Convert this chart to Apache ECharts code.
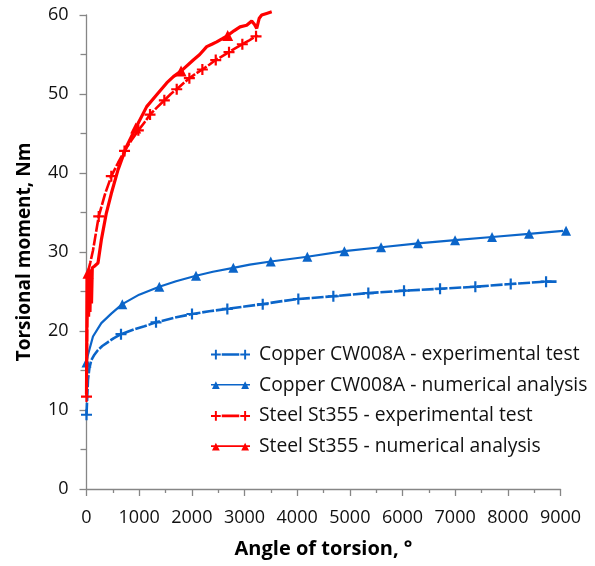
<!DOCTYPE html>
<html>
<head>
<meta charset="utf-8">
<script src="https://cdn.jsdelivr.net/npm/echarts@6/dist/echarts.min.js"></script>
<style>
html,body{margin:0;padding:0;background:#fff;}
#chart{width:595px;height:566px;}
</style>
</head>
<body>
<div id="chart"></div>
<script>
// ---- Data (angle of torsion in degrees, torsional moment in Nm) ----
const seriesNames = [
  'Copper CW008A - experimental test',
  'Copper CW008A - numerical analysis',
  'Steel St355 - experimental test',
  'Steel St355 - numerical analysis'
];
const xTicks = [0, 1000, 2000, 3000, 4000, 5000, 6000, 7000, 8000, 9000];
const yTicks = [0, 10, 20, 30, 40, 50, 60];

const copperExpAngle  = [0, 10, 28, 55, 91, 150, 218, 300, 408, 520, 655, 900, 1100, 1320, 1650, 2003, 2330, 2674, 3000, 3346, 3680, 4022, 4687, 5351, 6029, 6713, 7383, 8055, 8726, 8925];
const copperExpMoment = [9.4, 11.0, 13.8, 15.3, 16.3, 17.0, 17.6, 18.1, 18.6, 19.1, 19.6, 20.2, 20.6, 21.1, 21.65, 22.15, 22.5, 22.8, 23.1, 23.4, 23.75, 24.05, 24.4, 24.8, 25.1, 25.35, 25.6, 25.95, 26.25, 26.25];
const copperExpMarks  = [0, 655, 1320, 2003, 2674, 3346, 4022, 4687, 5351, 6029, 6713, 7383, 8055, 8726];

const copperNumAngle  = [0, 28, 123, 281, 471, 680, 1000, 1382, 1700, 2079, 2400, 2788, 3100, 3498, 4193, 4896, 5593, 6295, 6998, 7700, 8403, 9106, 9309];
const copperNumMoment = [16.0, 17.0, 19.3, 21.0, 22.2, 23.4, 24.6, 25.6, 26.3, 27.0, 27.5, 28.0, 28.4, 28.8, 29.4, 30.1, 30.6, 31.1, 31.5, 31.9, 32.3, 32.7, 32.85];
const copperNumMarks  = [0, 680, 1382, 2079, 2788, 3498, 4193, 4896, 5593, 6295, 6998, 7700, 8403, 9106];

const steelExpAngle  = [0, 8, 15, 28, 70, 123, 232, 350, 471, 600, 722, 850, 984, 1100, 1206, 1340, 1478, 1600, 1713, 1830, 1953, 2080, 2200, 2330, 2454, 2580, 2706, 2830, 2959, 3090, 3219, 3243];
const steelExpMoment = [11.7, 18.0, 22.0, 27.5, 28.6, 30.2, 34.5, 37.3, 39.6, 41.3, 42.8, 44.1, 45.4, 46.4, 47.4, 48.3, 49.2, 50.0, 50.6, 51.3, 52.0, 52.6, 53.1, 53.7, 54.3, 54.8, 55.3, 55.8, 56.3, 56.8, 57.3, 57.5];
const steelExpMarks  = [0, 232, 471, 722, 984, 1206, 1478, 1713, 1953, 2200, 2454, 2706, 2959, 3219];

const steelNumAngle  = [0, 10, 18, 28, 40, 52, 66, 80, 95, 110, 150, 218, 281, 376, 471, 598, 756, 934, 1143, 1333, 1523, 1650, 1795, 2028, 2150, 2283, 2380, 2473, 2580, 2681, 2800, 2915, 3042, 3137, 3190, 3232, 3280, 3327, 3420, 3517];
const steelNumMoment = [12.0, 27.0, 22.5, 27.3, 21.8, 27.6, 22.4, 27.8, 23.5, 28.0, 28.2, 28.6, 31.5, 34.9, 37.4, 40.4, 43.3, 45.7, 48.4, 49.9, 51.4, 52.2, 52.9, 54.3, 55.0, 56.0, 56.3, 56.6, 57.0, 57.4, 58.0, 58.5, 58.7, 59.25, 58.8, 58.3, 59.6, 60.0, 60.2, 60.4];
const steelNumMarks  = [28, 934, 1795, 2681];

// ---- Build ----
const BLUE = '#0b65c9';
const RED = '#ff0000';
const PLUS = 'path://M4,0h2v4h4v2h-4v4h-2v-4h-4v-2h4z';
const FONT = 'Open Sans';
// legend icons: marker - line - marker
const ICON_PLUS = 'path://M4,0h2v4h4v2h-4v4h-2v-4h-4v-2h4zM11,3.6h18v2.8h-18zM34,0h2v4h4v2h-4v4h-2v-4h-4v-2h4z';
const ICON_TRI = 'path://M0,4.3h40v1.4h-40zM1,9.5L5,1.5L9,9.5zM31,9.5L35,1.5L39,9.5z';
const ICON_TRI_THICK = 'path://M0,4h40v2h-40zM1,9.5L5,1.5L9,9.5zM31,9.5L35,1.5L39,9.5z';

function build(angles, moments, marks) {
  return angles.map((a, i) => {
    const item = { value: [a, moments[i]] };
    if (marks.indexOf(a) < 0) item.symbol = 'none';
    return item;
  });
}

const chart = echarts.init(document.getElementById('chart'), null, { renderer: 'canvas' });

const option = {
  animation: false,
  backgroundColor: '#fff',
  grid: { left: 86.5, right: 34.5, top: 15, bottom: 77, containLabel: false, outerBoundsMode: 'none' },
  legend: {
    orient: 'vertical',
    left: 206,
    top: 339,
    itemWidth: 39,
    itemHeight: 10,
    itemGap: 9.7,
    data: [
      { name: seriesNames[0], icon: ICON_PLUS },
      { name: seriesNames[1], icon: ICON_TRI },
      { name: seriesNames[2], icon: ICON_PLUS },
      { name: seriesNames[3], icon: ICON_TRI_THICK }
    ],
    textStyle: { fontFamily: FONT, fontSize: 19.3, color: '#111', lineHeight: 21, padding: [0, 0, 0, 4] }
  },
  xAxis: {
    type: 'value',
    min: xTicks[0],
    max: xTicks[xTicks.length - 1],
    interval: 1000,
    name: 'Angle of torsion, °',
    nameLocation: 'middle',
    nameGap: 50,
    nameTextStyle: { fontFamily: FONT, fontSize: 20, fontWeight: 'bold', color: '#000' },
    axisLine: { show: true, lineStyle: { color: '#868686', width: 1.3 } },
    axisTick: { show: true, length: 7, lineStyle: { color: '#868686', width: 1.3 } },
    minorTick: { show: true, splitNumber: 2, length: 4, lineStyle: { color: '#868686', width: 1.3 } },
    axisLabel: { fontFamily: FONT, fontSize: 18, color: '#111', margin: 20, formatter: v => String(v) },
    splitLine: { show: false }
  },
  yAxis: {
    type: 'value',
    min: yTicks[0],
    max: yTicks[yTicks.length - 1],
    interval: 10,
    name: 'Torsional moment, Nm',
    nameLocation: 'middle',
    nameGap: 52,
    nameTextStyle: { fontFamily: FONT, fontSize: 19, fontWeight: 'bold', color: '#000' },
    axisLine: { show: true, lineStyle: { color: '#868686', width: 1.3 } },
    axisTick: { show: true, length: 7, lineStyle: { color: '#868686', width: 1.3 } },
    minorTick: { show: true, splitNumber: 2, length: 6, lineStyle: { color: '#868686', width: 1.3 } },
    axisLabel: { fontFamily: FONT, fontSize: 18, color: '#111', margin: 18, formatter: v => String(v) },
    splitLine: { show: false }
  },
  series: [
    {
      name: seriesNames[0], type: 'line', clip: false, z: 3,
      symbol: PLUS, symbolSize: 11, showSymbol: true,
      itemStyle: { color: BLUE },
      lineStyle: { color: BLUE, width: 2.6, type: [12, 1.8] },
      data: build(copperExpAngle, copperExpMoment, copperExpMarks)
    },
    {
      name: seriesNames[1], type: 'line', clip: false, z: 3,
      symbol: 'triangle', symbolSize: 10, showSymbol: true,
      itemStyle: { color: BLUE },
      lineStyle: { color: BLUE, width: 2.2 },
      data: build(copperNumAngle, copperNumMoment, copperNumMarks)
    },
    {
      name: seriesNames[2], type: 'line', clip: false, z: 4,
      symbol: PLUS, symbolSize: 11, showSymbol: true,
      itemStyle: { color: RED },
      lineStyle: { color: RED, width: 2.6, type: [12, 1.8] },
      data: build(steelExpAngle, steelExpMoment, steelExpMarks)
    },
    {
      name: seriesNames[3], type: 'line', clip: false, z: 4,
      symbol: 'triangle', symbolSize: 11, showSymbol: true,
      itemStyle: { color: RED },
      lineStyle: { color: RED, width: 3.2 },
      data: build(steelNumAngle, steelNumMoment, steelNumMarks)
    }
  ]
};
chart.setOption(option);
</script>
</body>
</html>
